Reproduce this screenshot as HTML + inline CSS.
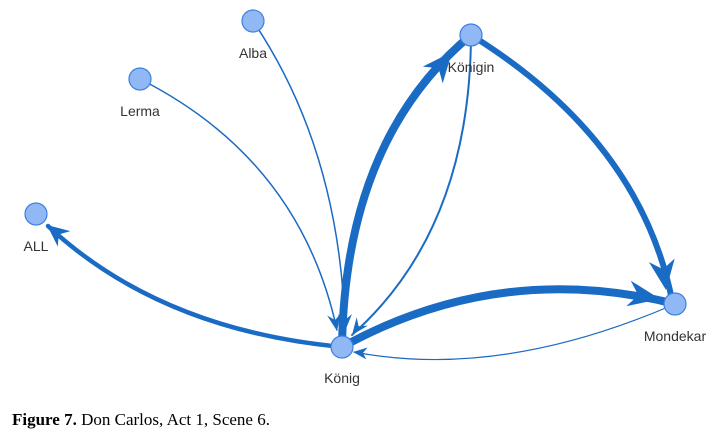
<!DOCTYPE html>
<html><head><meta charset="utf-8"><style>
body{margin:0;background:#fff;width:718px;height:445px;overflow:hidden}
svg{position:absolute;left:0;top:0}
.cap{position:absolute;left:12px;top:410px;font-family:"Liberation Serif",serif;font-size:17px;color:#000}
text{font-family:"Liberation Sans",sans-serif;font-size:14px;fill:#333}
</style></head><body>
<svg width="718" height="445" viewBox="0 0 718 445">
<g fill="none" stroke="#1a6bc4" stroke-linecap="round">
<path d="M342,347 Q160,330 48,226" stroke-width="4.5"/>
<path d="M342,347 Q345,140 471,35" stroke-width="8"/>
<path d="M471,35 Q470,230 352,335" stroke-width="2"/>
<path d="M471,35 Q640,140 672,300" stroke-width="6"/>
<path d="M342,347 Q500,260 675,304" stroke-width="8"/>
<path d="M675,304 Q500,380 354,352" stroke-width="1.2"/>
<path d="M140,79 Q300,160 337,330" stroke-width="1.5"/>
<path d="M253,21 Q340,150 345,330" stroke-width="1.5"/>
</g>
<g fill="#1a6bc4">
<polygon points="0,0 -22,-10 -15,0 -22,10" transform="translate(47,225) rotate(219)"/>
<polygon points="0,0 -30,-13 -21,0 -30,13" transform="translate(452,52) rotate(-50)"/>
<polygon points="0,0 -30,-13 -21,0 -30,13" transform="translate(666,290) rotate(82)"/>
<polygon points="0,0 -32,-13 -22,0 -32,13" transform="translate(660,299) rotate(10)"/>
<polygon points="0,0 -14,-6 -10,0 -14,6" transform="translate(353,352) rotate(186)"/>
<polygon points="0,0 -17,-7 -11,0 -17,7" transform="translate(352,335) rotate(127)"/>
<polygon points="0,0 -17,-7 -11,0 -17,7" transform="translate(337,331) rotate(80)"/>
<polygon points="0,0 -17,-7 -11,0 -17,7" transform="translate(345,331) rotate(90)"/>
</g>
<g fill="#8fb8f5" stroke="#3f7fe0" stroke-width="1.2">
<circle cx="342" cy="347" r="11"/>
<circle cx="471" cy="35" r="11"/>
<circle cx="675" cy="304" r="11"/>
<circle cx="36" cy="214" r="11"/>
<circle cx="140" cy="79" r="11"/>
<circle cx="253" cy="21" r="11"/>
</g>
<text x="342" y="383" text-anchor="middle">König</text>
<text x="471" y="72" text-anchor="middle">Königin</text>
<text x="675" y="341" text-anchor="middle">Mondekar</text>
<text x="36" y="251" text-anchor="middle">ALL</text>
<text x="140" y="116" text-anchor="middle">Lerma</text>
<text x="253" y="58" text-anchor="middle">Alba</text>
</svg>
<div class="cap"><b>Figure 7.</b> Don Carlos, Act 1, Scene 6.</div>
</body></html>
